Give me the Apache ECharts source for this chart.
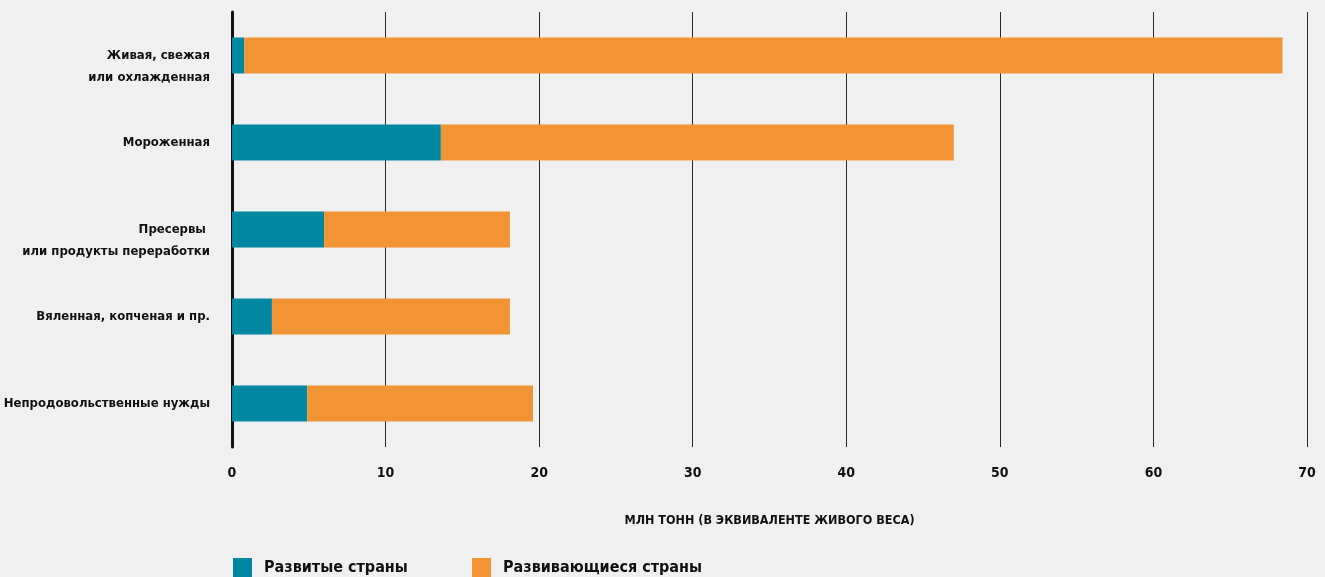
<!DOCTYPE html>
<html>
<head>
<meta charset="utf-8">
<script src="https://cdn.jsdelivr.net/npm/echarts@6/dist/echarts.min.js"></script>
<style>
  html, body { margin: 0; padding: 0; background: #f0f0f0; }
  #chart { width: 1325px; height: 577px; }
</style>
</head>
<body>
<div id="chart"></div>
<script>
var categories = [
  'Живая, свежая\nили охлажденная',
  'Мороженная',
  'Пресервы \nили продукты переработки',
  'Вяленная, копченая и пр.',
  'Непродовольственные нужды'
]
var developed = [0.8, 13.6, 6.0, 2.6, 4.9]
var developing = [67.6, 33.4, 12.1, 15.5, 14.7]
var seriesNames = ['Развитые страны', 'Развивающиеся страны']
var axisTitle = 'МЛН ТОНН (В ЭКВИВАЛЕНТЕ ЖИВОГО ВЕСА)'

var font = "'Liberation Sans Narrow', 'DejaVu Sans Condensed', 'Noto Sans', sans-serif"

var chart = echarts.init(document.getElementById('chart'))

function legendItem(name, left) {
  return {
    data: [name],
    left: left,
    top: 558,
    padding: 0,
    icon: 'rect',
    itemWidth: 19,
    itemHeight: 20,
    textStyle: { fontFamily: font, fontWeight: 'bold', fontSize: 16, color: '#111', padding: [0, 0, 0, 7] }
  }
}

var option = {
  backgroundColor: '#f0f0f0',
  color: ['#0087a2', '#f29434'],
  animation: false,
  grid: {
    left: 232,
    right: 18,
    top: 12,
    bottom: 130,
    containLabel: false,
    outerBoundsMode: 'none'
  },
  legend: [legendItem(seriesNames[0], 233), legendItem(seriesNames[1], 472)],
  xAxis: {
    type: 'value',
    min: 0,
    max: 70,
    interval: 10,
    name: axisTitle,
    nameLocation: 'middle',
    nameGap: 67,
    nameTextStyle: { fontFamily: font, fontWeight: 'bold', fontSize: 12.5, color: '#111' },
    axisLine: { show: false },
    axisTick: { show: false },
    axisLabel: { fontFamily: font, fontWeight: 'bold', fontSize: 14, color: '#111', margin: 19 },
    splitLine: { show: true, lineStyle: { color: '#2a2a2a', width: 1 } }
  },
  yAxis: {
    type: 'category',
    inverse: true,
    data: categories,
    axisLine: { show: true, lineStyle: { color: '#111', width: 3 } },
    axisTick: { show: false },
    axisLabel: {
      fontFamily: font, fontWeight: 'bold', fontSize: 13, color: '#111',
      margin: 22, lineHeight: 22, align: 'right',
      // two-line labels sit a bit below the bar in the original
      formatter: function (v) { return v.indexOf('\n') >= 0 ? '\n' + v : v }
    },
    splitLine: { show: false }
  },
  series: [{
    name: seriesNames[0],
    type: 'bar',
    stack: 'total',
    barWidth: 36,
    silent: true,
    data: developed
  }, {
    name: seriesNames[1],
    type: 'bar',
    stack: 'total',
    barWidth: 36,
    silent: true,
    data: developing
  }]
}

chart.setOption(option)
</script>
</body>
</html>
